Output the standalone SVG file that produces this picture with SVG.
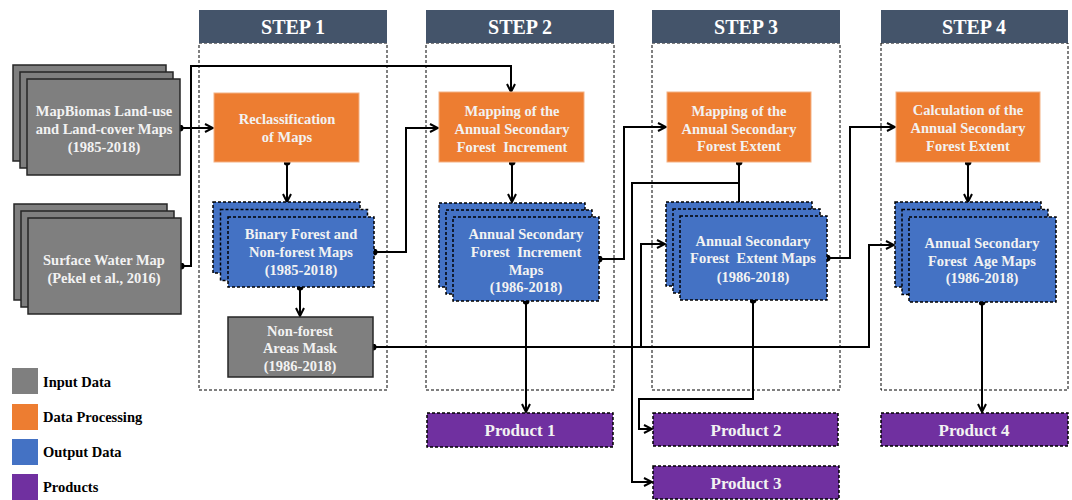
<svg xmlns="http://www.w3.org/2000/svg" width="1072" height="500" viewBox="0 0 1072 500">
<defs>
<style>
.hdr{fill:#44546a}
.hdrt{font-family:"Liberation Serif",serif;font-weight:bold;font-size:20px;fill:#ffffff;text-anchor:middle}
.col{fill:none;stroke:#000;stroke-width:1;stroke-dasharray:3,2}
.inp{fill:#7f7f7f;stroke:#262626;stroke-width:1.5}
.proc{fill:#ed7d31;stroke:#f4b183;stroke-width:1}
.out{fill:#4472c4;stroke:#000;stroke-width:1.5;stroke-dasharray:3,2}
.prod{fill:#7030a0;stroke:#000;stroke-width:1.5;stroke-dasharray:3,2}
.t{font-family:"Liberation Serif",serif;font-weight:bold;font-size:14.5px;fill:#f2f2f2;text-anchor:middle;white-space:pre}
.pt{font-family:"Liberation Serif",serif;font-weight:bold;font-size:17px;fill:#f2f2f2;text-anchor:middle}
.lt{font-family:"Liberation Serif",serif;font-weight:bold;font-size:14.5px;fill:#000}
.c{fill:none;stroke:#000;stroke-width:2}
</style>
<marker id="arr" viewBox="0 0 10 10" refX="9" refY="5" markerWidth="10" markerHeight="10" markerUnits="userSpaceOnUse" orient="auto">
<path d="M1,1 L9,5 L1,9" fill="none" stroke="#000" stroke-width="2"/>
</marker>
<marker id="dot" viewBox="0 0 8 8" refX="4" refY="4" markerWidth="7" markerHeight="7" markerUnits="userSpaceOnUse">
<circle cx="4" cy="4" r="4" fill="#000"/>
</marker>
</defs>
<rect width="1072" height="500" fill="#ffffff"/>

<g id="steps">
<rect class="col" x="199" y="43" width="188" height="347"/>
<rect class="col" x="426" y="43" width="188" height="347"/>
<rect class="col" x="652" y="43" width="188" height="347"/>
<rect class="col" x="881" y="43" width="187" height="347"/>
<g id="step1"><rect class="hdr" x="199" y="10" width="188" height="33"/><text class="hdrt" x="293" y="34">STEP 1</text></g>
<g id="step2"><rect class="hdr" x="426" y="10" width="188" height="33"/><text class="hdrt" x="520" y="34">STEP 2</text></g>
<g id="step3"><rect class="hdr" x="652" y="10" width="188" height="33"/><text class="hdrt" x="746" y="34">STEP 3</text></g>
<g id="step4"><rect class="hdr" x="881" y="10" width="187" height="33"/><text class="hdrt" x="974" y="34">STEP 4</text></g>
</g>

<g id="connectors">
<path class="c" d="M180,128 H213" marker-start="url(#dot)" marker-end="url(#arr)"/>
<path class="c" d="M181,266 H191 V66 H511 V92" marker-start="url(#dot)" marker-end="url(#arr)"/>
<path class="c" d="M287,162 V202" marker-start="url(#dot)" marker-end="url(#arr)"/>
<path class="c" d="M300,287 V316" marker-start="url(#dot)" marker-end="url(#arr)"/>
<path class="c" d="M374,252 H406 V128 H438" marker-start="url(#dot)" marker-end="url(#arr)"/>
<path class="c" d="M512,162 V202" marker-start="url(#dot)" marker-end="url(#arr)"/>
<path class="c" d="M599,259 H624 V127 H666" marker-start="url(#dot)" marker-end="url(#arr)"/>
<path class="c" d="M526,301 V412" marker-start="url(#dot)" marker-end="url(#arr)"/>
<path class="c" d="M373,347 H869 V245 H894" marker-start="url(#dot)" marker-end="url(#arr)"/>
<path class="c" d="M641,347 V244 H665" marker-end="url(#arr)"/>
<path class="c" d="M739,162 V202" marker-start="url(#dot)"/>
<path class="c" d="M739,183 H632 V482 H652" marker-end="url(#arr)"/>
<path class="c" d="M827,258 H850 V127 H895" marker-start="url(#dot)" marker-end="url(#arr)"/>
<path class="c" d="M753,300 V399 H639 V429 H652" marker-start="url(#dot)" marker-end="url(#arr)"/>
<path class="c" d="M968,162 V202" marker-start="url(#dot)" marker-end="url(#arr)"/>
<path class="c" d="M982,302 V412" marker-start="url(#dot)" marker-end="url(#arr)"/>
</g>

<g id="mapbiomas">
<rect class="inp" x="13" y="65" width="153" height="96"/>
<rect class="inp" x="20" y="72" width="153" height="96"/>
<rect class="inp" x="27" y="79" width="153" height="96"/>
<text class="t" x="104" y="116">MapBiomas Land-use</text>
<text class="t" x="104" y="134">and Land-cover Maps</text>
<text class="t" x="104" y="152">(1985-2018)</text>
</g>

<g id="surfacewater">
<rect class="inp" x="14" y="204" width="153" height="96"/>
<rect class="inp" x="21" y="211" width="153" height="96"/>
<rect class="inp" x="28" y="218" width="153" height="96"/>
<text class="t" x="104" y="265">Surface Water Map</text>
<text class="t" x="104" y="283">(Pekel et al., 2016)</text>
</g>

<g id="reclass">
<rect class="proc" x="214" y="93" width="145" height="69"/>
<text class="t" x="287" y="124">Reclassification</text>
<text class="t" x="287" y="142">of Maps</text>
</g>

<g id="binary">
<rect class="out" x="213" y="202" width="147" height="71"/>
<rect class="out" x="220.5" y="209.5" width="147" height="71"/>
<rect class="out" x="228" y="217" width="146" height="70"/>
<text class="t" x="301" y="239">Binary Forest and</text>
<text class="t" x="301" y="257">Non-forest Maps</text>
<text class="t" x="301" y="275">(1985-2018)</text>
</g>

<g id="mask">
<rect class="inp" x="228" y="317" width="145" height="60"/>
<text class="t" x="300" y="336">Non-forest</text>
<text class="t" x="300" y="353">Areas Mask</text>
<text class="t" x="300" y="371">(1986-2018)</text>
</g>

<g id="mapincr">
<rect class="proc" x="439" y="92" width="145" height="70"/>
<text class="t" x="512" y="116">Mapping of the</text>
<text class="t" x="512" y="134">Annual Secondary</text>
<text class="t" x="512" y="152">Forest  Increment</text>
</g>

<g id="incrmaps">
<rect class="out" x="439" y="203" width="146" height="84"/>
<rect class="out" x="446" y="210" width="146" height="84"/>
<rect class="out" x="453" y="217" width="146" height="84"/>
<text class="t" x="526" y="239">Annual Secondary</text>
<text class="t" x="526" y="257">Forest  Increment</text>
<text class="t" x="526" y="275">Maps</text>
<text class="t" x="526" y="292">(1986-2018)</text>
</g>

<g id="mapext">
<rect class="proc" x="667" y="92" width="144" height="70"/>
<text class="t" x="739" y="116">Mapping of the</text>
<text class="t" x="739" y="134">Annual Secondary</text>
<text class="t" x="739" y="151">Forest Extent</text>
</g>

<g id="extmaps">
<rect class="out" x="666" y="202" width="146" height="84"/>
<rect class="out" x="673" y="209" width="147" height="84"/>
<rect class="out" x="680" y="216" width="147" height="84"/>
<text class="t" x="753" y="246">Annual Secondary</text>
<text class="t" x="753" y="263">Forest  Extent Maps</text>
<text class="t" x="753" y="282">(1986-2018)</text>
</g>

<g id="calc">
<rect class="proc" x="896" y="92" width="144" height="70"/>
<text class="t" x="968" y="115">Calculation of the</text>
<text class="t" x="968" y="133">Annual Secondary</text>
<text class="t" x="968" y="151">Forest Extent</text>
</g>

<g id="agemaps">
<rect class="out" x="895" y="202" width="146" height="85"/>
<rect class="out" x="902" y="209.5" width="146" height="85"/>
<rect class="out" x="909" y="217" width="147" height="85"/>
<text class="t" x="982" y="248">Annual Secondary</text>
<text class="t" x="982" y="266">Forest  Age Maps</text>
<text class="t" x="982" y="283">(1986-2018)</text>
</g>

<g id="product1"><rect class="prod" x="427" y="413" width="186" height="34"/><text class="pt" x="520" y="436">Product 1</text></g>
<g id="product2"><rect class="prod" x="653" y="413" width="185" height="33"/><text class="pt" x="746" y="436">Product 2</text></g>
<g id="product3"><rect class="prod" x="653" y="466" width="186" height="33"/><text class="pt" x="746" y="489">Product 3</text></g>
<g id="product4"><rect class="prod" x="881" y="413" width="187" height="33"/><text class="pt" x="974" y="436">Product 4</text></g>

<g id="legend">
<rect x="12" y="368" width="26" height="26" fill="#7f7f7f"/>
<text class="lt" x="43" y="387">Input Data</text>
<rect x="12" y="404" width="26" height="26" fill="#ed7d31"/>
<text class="lt" x="43" y="422">Data Processing</text>
<rect x="12" y="439" width="26" height="26" fill="#4472c4"/>
<text class="lt" x="43" y="457">Output Data</text>
<rect x="12" y="474" width="26" height="26" fill="#7030a0"/>
<text class="lt" x="43" y="492">Products</text>
</g>
</svg>
